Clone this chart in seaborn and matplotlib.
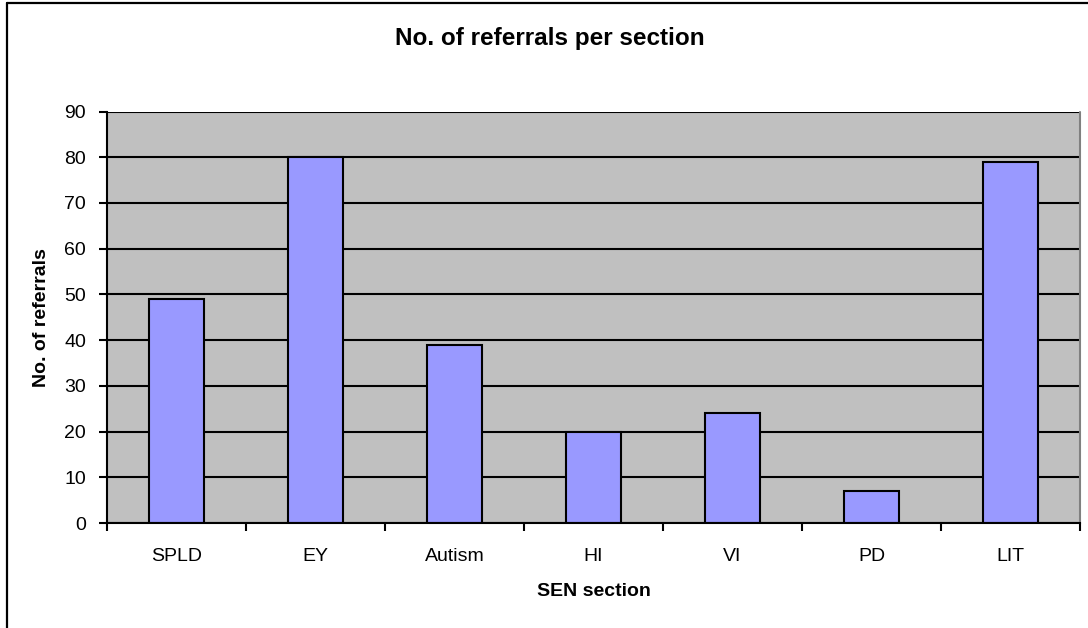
import matplotlib
matplotlib.use("Agg")
import matplotlib.pyplot as plt
import seaborn as sns
import pandas as pd
from matplotlib.ticker import FixedLocator

# Referral counts per SEN section
sections = ["SPLD", "EY", "Autism", "HI", "VI", "PD", "LIT"]
referrals = [49, 80, 39, 20, 24, 7, 79]
y_ticks = [0, 10, 20, 30, 40, 50, 60, 70, 80, 90]

sns.set_theme(style="white")
plt.rcParams["font.family"] = ["Liberation Sans", "DejaVu Sans"]

W, H = 1088, 628
fig = plt.figure(figsize=(W / 100, H / 100), dpi=100)
fig.patch.set_facecolor("white")

# plot area in pixel coordinates
left, right, top, bottom = 107, 1080, 111.5, 523
ax = fig.add_axes([left / W, 1 - bottom / H, (right - left) / W, (bottom - top) / H])
ax.set_facecolor("#C0C0C0")

df = pd.DataFrame({"section": sections, "referrals": referrals})
sns.barplot(data=df, x="section", y="referrals", color="#9999FF",
            saturation=1, width=0.4, edgecolor="black", linewidth=1.5,
            ax=ax, zorder=3)

ax.set_xlim(-0.5, len(sections) - 0.5)
ax.set_ylim(0, 90)
ax.set_yticks(y_ticks)
ax.yaxis.grid(True, color="black", linewidth=1.5, zorder=1)
ax.set_axisbelow(True)

for s in ["top", "right"]:
    ax.spines[s].set_visible(False)
for s in ["left", "bottom"]:
    ax.spines[s].set_color("black")
    ax.spines[s].set_linewidth(1.5)
    ax.spines[s].set_zorder(4)

# right plot-area edge, drawn in grey
ax.plot([1, 1], [0, 1], transform=ax.transAxes, color="#808080",
        linewidth=1.5, clip_on=False, zorder=4)

# category ticks sit between bars
ax.xaxis.set_minor_locator(FixedLocator([i - 0.5 for i in range(len(sections) + 1)]))
ax.tick_params(axis="x", which="major", length=0, pad=18, labelsize=14, labelcolor="black")
ax.tick_params(axis="x", which="minor", bottom=True, length=6, width=1.5, color="black", direction="out")
ax.tick_params(axis="y", which="major", left=True, length=6, width=1.5, color="black",
               direction="out", pad=9, labelsize=14, labelcolor="black")

ax.set_xlabel("SEN section", fontsize=14, fontweight="bold", color="black")
ax.set_ylabel("No. of referrals", fontsize=14, fontweight="bold", color="black")
ax.xaxis.label.set_va("center")
ax.yaxis.label.set_va("center")
ax.xaxis.set_label_coords(0.5, (bottom - 591) / (bottom - top))
ax.yaxis.set_label_coords((42 - left) / (right - left), 0.5)

fig.text(550 / W, 1 - 38 / H, "No. of referrals per section", ha="center", va="center",
         fontsize=17.5, fontweight="bold", color="black")

# chart border (left and top edges)
fig.add_artist(plt.Line2D([7 / W, 7 / W], [0, 1 - 3 / H], transform=fig.transFigure,
                          color="black", linewidth=1.6))
fig.add_artist(plt.Line2D([7 / W, 1], [1 - 3 / H, 1 - 3 / H], transform=fig.transFigure,
                          color="black", linewidth=1.6))

fig.savefig("out.png", dpi=100)
